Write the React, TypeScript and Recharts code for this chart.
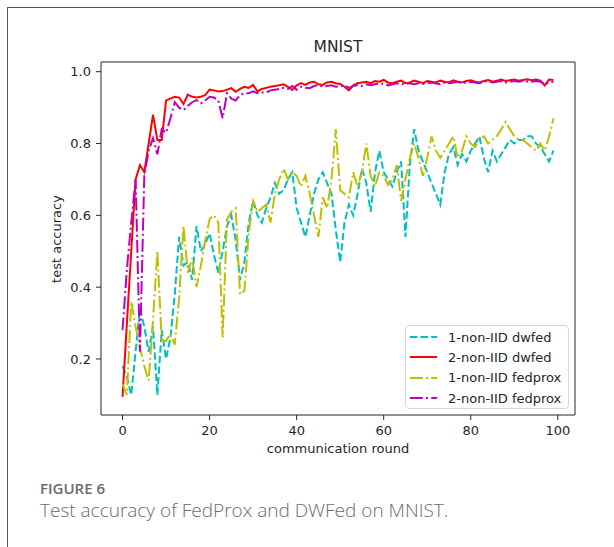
// @ts-nocheck
import React from "react";
import { LineChart, Line, XAxis, YAxis, ReferenceArea } from "recharts";

// communication rounds (x categories)
const ROUNDS = Array.from({ length: 100 }, (_, i) => i);

const DWFED_1 = [
  0.18, 0.15, 0.1, 0.22, 0.34, 0.29, 0.22, 0.29, 0.1, 0.28,
  0.2, 0.26, 0.38, 0.54, 0.46, 0.47, 0.42, 0.57, 0.5, 0.52,
  0.55, 0.49, 0.44, 0.5, 0.57, 0.6, 0.53, 0.42, 0.47, 0.58,
  0.64, 0.6, 0.58, 0.62, 0.65, 0.69, 0.66, 0.67, 0.7, 0.72,
  0.62, 0.58, 0.54, 0.6, 0.66, 0.7, 0.72, 0.69, 0.66, 0.56,
  0.47, 0.58, 0.63, 0.6, 0.66, 0.73, 0.69, 0.61, 0.72, 0.78,
  0.72, 0.7, 0.68, 0.72, 0.75, 0.54, 0.74, 0.84, 0.78, 0.75,
  0.72, 0.69, 0.66, 0.63, 0.72, 0.77, 0.79, 0.74, 0.77, 0.75,
  0.78, 0.8, 0.82, 0.76, 0.72, 0.78, 0.75, 0.77, 0.79, 0.81,
  0.8, 0.81, 0.81, 0.82, 0.82, 0.8, 0.79, 0.77, 0.75, 0.78,
];

const DWFED_2 = [
  0.095, 0.3, 0.5, 0.7, 0.74, 0.72, 0.8, 0.88, 0.81, 0.81,
  0.92, 0.925, 0.93, 0.928, 0.91, 0.936, 0.93, 0.928, 0.93, 0.935,
  0.95, 0.948, 0.945, 0.946, 0.95, 0.954, 0.944, 0.952, 0.958, 0.955,
  0.963, 0.945, 0.952, 0.955, 0.958, 0.96, 0.962, 0.965, 0.958, 0.949,
  0.962, 0.968, 0.963, 0.97, 0.972, 0.965, 0.963, 0.97, 0.972, 0.968,
  0.966, 0.958, 0.948, 0.962, 0.968, 0.97, 0.972, 0.968, 0.974, 0.972,
  0.977, 0.97, 0.968, 0.972, 0.975, 0.968, 0.97, 0.975, 0.972, 0.968,
  0.974, 0.972, 0.97, 0.975, 0.972, 0.97, 0.976, 0.972, 0.97, 0.974,
  0.976, 0.972, 0.97, 0.974, 0.977, 0.972, 0.975, 0.978, 0.974, 0.976,
  0.978, 0.975, 0.977, 0.979, 0.976, 0.978, 0.975, 0.962, 0.978, 0.977,
];

const FEDPROX_1 = [
  0.13, 0.1, 0.36, 0.29, 0.23, 0.18, 0.14, 0.31, 0.5, 0.25,
  0.25, 0.27, 0.24, 0.37, 0.57, 0.44, 0.48, 0.4, 0.46, 0.53,
  0.59, 0.6, 0.58, 0.26, 0.59, 0.61, 0.62, 0.38, 0.39, 0.55,
  0.64, 0.61, 0.62, 0.63, 0.58, 0.66, 0.7, 0.73, 0.7, 0.72,
  0.71, 0.68, 0.71, 0.66, 0.6, 0.54, 0.65, 0.62, 0.7, 0.84,
  0.67, 0.66, 0.65, 0.72, 0.68, 0.72, 0.8, 0.71, 0.68, 0.72,
  0.71, 0.685, 0.7, 0.74, 0.64, 0.7, 0.76, 0.8, 0.76, 0.71,
  0.76, 0.82, 0.78, 0.76, 0.78, 0.8, 0.82, 0.76, 0.78, 0.82,
  0.8, 0.79, 0.81, 0.82, 0.8, 0.81, 0.82, 0.84, 0.86, 0.84,
  0.82, 0.81, 0.81, 0.8, 0.79, 0.78, 0.8, 0.78, 0.82, 0.87,
];

const FEDPROX_2 = [
  0.28, 0.45, 0.58, 0.7, 0.22, 0.71, 0.78, 0.815, 0.77, 0.84,
  0.83, 0.87, 0.915, 0.9, 0.893, 0.905, 0.915, 0.921, 0.912, 0.92,
  0.93, 0.928, 0.92, 0.87, 0.94, 0.925, 0.92, 0.935, 0.94, 0.94,
  0.945, 0.94, 0.942, 0.942, 0.948, 0.95, 0.952, 0.955, 0.952, 0.96,
  0.95, 0.958, 0.955, 0.954, 0.96, 0.963, 0.958, 0.96, 0.962, 0.958,
  0.96, 0.962, 0.955, 0.96, 0.963, 0.96, 0.965, 0.962, 0.965, 0.968,
  0.966, 0.962, 0.965, 0.968, 0.965, 0.967, 0.968, 0.965, 0.968, 0.966,
  0.968, 0.97, 0.967, 0.965, 0.97, 0.968, 0.97, 0.972, 0.968, 0.97,
  0.972, 0.97, 0.968, 0.972, 0.974, 0.97, 0.972, 0.974, 0.97, 0.972,
  0.974, 0.972, 0.975, 0.973, 0.972, 0.974, 0.972, 0.965, 0.97, 0.972,
];

const X_TICKS = [0, 20, 40, 60, 80, 100];
const Y_TICKS = [0.2, 0.4, 0.6, 0.8, 1.0];
const X_DOMAIN = [-4.95, 103.95];
const Y_DOMAIN = [0.044, 1.027];

const SERIES = [
  { key: "d1", name: "1-non-IID dwfed", color: "#00bfbf", dash: "7.4 3.2" },
  { key: "d2", name: "2-non-IID dwfed", color: "#ff0000", dash: undefined },
  { key: "f1", name: "1-non-IID fedprox", color: "#bfbf00", dash: "12.8 3.2 2 3.2" },
  { key: "f2", name: "2-non-IID fedprox", color: "#bf00bf", dash: "12.8 3.2 2 3.2" },
];

const data = ROUNDS.map((r, i) => ({
  round: r,
  d1: DWFED_1[i],
  d2: DWFED_2[i],
  f1: FEDPROX_1[i],
  f2: FEDPROX_2[i],
}));

// plot box in page pixels
const W = 614;
const H = 547;
const PLOT = { left: 101, top: 62, right: 575, bottom: 415 };
const Y_AXIS_W = 50;
const X_AXIS_H = 30;

const INK = "#262626";
const MPL_FONT = "'DejaVu Sans', sans-serif";

const tickStyle = { fontSize: 13, fill: INK, fontFamily: MPL_FONT };

function ChartLegend() {
  return (
    <div
      style={{
        position: "absolute",
        left: 405,
        top: 325,
        width: 164,
        height: 84,
        boxSizing: "border-box",
        border: "1px solid #d6d6d6",
        borderRadius: 4,
        background: "rgba(255,255,255,0.85)",
        paddingTop: 1,
        fontFamily: MPL_FONT,
        fontSize: 13,
        color: INK,
      }}
    >
      {SERIES.map((s) => (
        <div
          key={s.key}
          style={{ display: "flex", alignItems: "center", height: 20.3 }}
        >
          <svg width={27} height={6} style={{ marginLeft: 4, marginRight: 11 }}>
            <line
              x1={0}
              y1={3}
              x2={27}
              y2={3}
              stroke={s.color}
              strokeWidth={2}
              strokeDasharray={s.dash}
            />
          </svg>
          <span style={{ whiteSpace: "nowrap" }}>{s.name}</span>
        </div>
      ))}
    </div>
  );
}

export default function App() {
  const plotW = PLOT.right - PLOT.left;
  const plotMidX = PLOT.left + plotW / 2;
  const plotMidY = (PLOT.top + PLOT.bottom) / 2;

  return (
    <div
      style={{
        position: "absolute",
        left: 0,
        top: 0,
        width: W,
        height: H,
        background: "#fff",
        overflow: "hidden",
      }}
    >
      {/* page frame */}
      <div
        style={{
          position: "absolute",
          left: 7,
          top: 7,
          width: W,
          height: H,
          borderLeft: "1.5px solid #555",
          borderTop: "1.5px solid #555",
        }}
      />

      <div style={{ position: "absolute", left: 0, top: 0 }}>
        <LineChart
          width={W}
          height={H}
          data={data}
          margin={{
            top: PLOT.top,
            left: PLOT.left - Y_AXIS_W,
            right: W - PLOT.right,
            bottom: H - PLOT.bottom - X_AXIS_H,
          }}
        >
          <XAxis
            dataKey="round"
            type="number"
            domain={X_DOMAIN}
            allowDataOverflow
            ticks={X_TICKS}
            height={X_AXIS_H}
            axisLine={false}
            tickLine={{ stroke: INK }}
            tickSize={5}
            tickMargin={6}
            tick={tickStyle}
          />
          <YAxis
            type="number"
            domain={Y_DOMAIN}
            allowDataOverflow
            ticks={Y_TICKS}
            width={Y_AXIS_W}
            axisLine={false}
            tickLine={{ stroke: INK }}
            tickSize={5}
            tickMargin={5}
            tick={tickStyle}
            tickFormatter={(v) => v.toFixed(1)}
          />
          <ReferenceArea
            x1={X_DOMAIN[0]}
            x2={X_DOMAIN[1]}
            y1={Y_DOMAIN[0]}
            y2={Y_DOMAIN[1]}
            fill="none"
            fillOpacity={0}
            stroke={INK}
            strokeWidth={1}
            ifOverflow="visible"
          />
          {SERIES.map((s) => (
            <Line
              key={s.key}
              dataKey={s.key}
              name={s.name}
              type="linear"
              stroke={s.color}
              strokeWidth={2}
              strokeDasharray={s.dash}
              dot={false}
              activeDot={false}
              isAnimationActive={false}
            />
          ))}
        </LineChart>
      </div>

      {/* title */}
      <div
        style={{
          position: "absolute",
          left: PLOT.left,
          width: plotW,
          top: 38,
          textAlign: "center",
          fontFamily: MPL_FONT,
          fontSize: 15.5,
          lineHeight: "18px",
          color: INK,
        }}
      >
        MNIST
      </div>

      {/* y label */}
      <div
        style={{
          position: "absolute",
          left: 57 - 100,
          top: plotMidY - 8,
          width: 200,
          height: 16,
          lineHeight: "16px",
          textAlign: "center",
          transform: "rotate(-90deg)",
          fontFamily: MPL_FONT,
          fontSize: 13,
          color: INK,
        }}
      >
        test accuracy
      </div>

      {/* x label */}
      <div
        style={{
          position: "absolute",
          left: plotMidX - 150,
          width: 300,
          top: 441,
          lineHeight: "16px",
          textAlign: "center",
          fontFamily: MPL_FONT,
          fontSize: 13,
          color: INK,
        }}
      >
        communication round
      </div>

      <ChartLegend />

      {/* caption */}
      <div
        style={{
          position: "absolute",
          left: 40,
          top: 479,
          fontFamily: "'Open Sans', sans-serif",
          fontWeight: 600,
          fontSize: 15,
          lineHeight: "18px",
          color: "#6b6b6b",
        }}
      >
        FIGURE 6
      </div>
      <div
        style={{
          position: "absolute",
          left: 40,
          top: 498,
          fontFamily: "'Open Sans', sans-serif",
          fontWeight: 300,
          fontSize: 19,
          lineHeight: "25px",
          color: "#6b6b6b",
        }}
      >
        Test accuracy of FedProx and DWFed on MNIST.
      </div>
    </div>
  );
}
